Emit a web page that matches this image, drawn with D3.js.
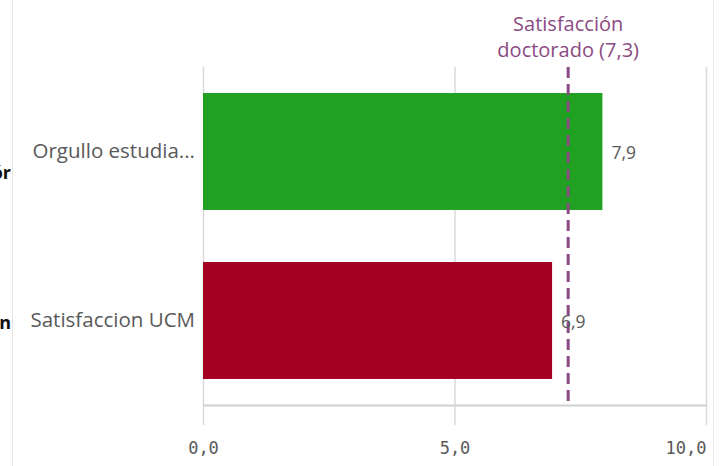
<!DOCTYPE html>
<html>
<head>
<meta charset="utf-8">
<script src="https://cdn.jsdelivr.net/npm/d3@7"></script>
<style>
  body { margin: 0; background: #fff; }
  svg { display: block; }
</style>
</head>
<body>
<svg id="chart" width="726" height="466"></svg>
<script>
// datos del gráfico
const categories = ["Orgullo estudia...", "Satisfaccion UCM"];
const values = [7.94, 6.94];
const valueLabels = ["7,9", "6,9"];
const barColors = ["#21a121", "#a30022"];
const refValue = 7.26;
const refLabel = ["Satisfacción", "doctorado (7,3)"];
const tickValues = [0, 5, 10];
const tickLabels = ["0,0", "5,0", "10,0"];
const sideTexts = ["ór", "n"];

const width = 726, height = 466;
const svg = d3.select("#chart");
const margin = {top: 67, right: 20, bottom: 61, left: 203};

// escalas
const x = d3.scaleLinear()
    .domain([0, 10])
    .range([margin.left, 706]);

const y = d3.scaleBand()
    .domain(categories)
    .range([margin.top, height - margin.bottom])
    .paddingInner(0.308)
    .paddingOuter(0.154);

// bordes claros de los objetos vecinos
svg.append("line")
    .attr("x1", 12.5).attr("x2", 12.5)
    .attr("y1", 0).attr("y2", height)
    .attr("stroke", "#e6e6e6");
svg.append("line")
    .attr("x1", 713.5).attr("x2", 713.5)
    .attr("y1", 0).attr("y2", height)
    .attr("stroke", "#eeeeee");

// texto recortado del objeto vecino (izquierda)
svg.append("clipPath").attr("id", "leftclip")
    .append("rect").attr("x", 0).attr("y", 0).attr("width", 11).attr("height", height);
const sideOffsets = [27, 8];
svg.append("g").attr("clip-path", "url(#leftclip)")
    .selectAll("text")
    .data(sideTexts)
    .join("text")
    .attr("x", 11)
    .attr("y", (d, i) => y(categories[i]) + y.bandwidth() / 2 + sideOffsets[i])
    .attr("text-anchor", "end")
    .attr("font-family", "Open Sans, sans-serif")
    .attr("font-weight", "bold")
    .attr("font-size", 18)
    .attr("fill", "#111")
    .text(d => d);

// líneas de la cuadrícula
svg.append("g")
    .selectAll("line")
    .data(tickValues)
    .join("line")
    .attr("x1", d => x(d) + 0.5)
    .attr("x2", d => x(d) + 0.5)
    .attr("y1", margin.top)
    .attr("y2", height - margin.bottom)
    .attr("stroke", "#d9d9d9")
    .attr("stroke-width", 1.5);

// eje inferior
const yAxisPos = height - margin.bottom;
const xAxis = svg.append("g")
    .attr("transform", `translate(0,${yAxisPos})`)
    .call(d3.axisBottom(x)
        .tickValues(tickValues)
        .tickFormat((d, i) => tickLabels[i])
        .tickSize(20)
        .tickPadding(17));
xAxis.select(".domain")
    .attr("stroke", "#d0d0d0")
    .attr("stroke-width", 2)
    .attr("d", `M${x(0)},0.5H${x(10)}`);
xAxis.selectAll(".tick line")
    .attr("stroke", "#d9d9d9")
    .attr("stroke-width", 1.5);
xAxis.selectAll(".tick text")
    .attr("font-family", "DejaVu Sans Mono, monospace")
    .attr("font-size", 17)
    .attr("fill", "#595959")
    .attr("text-anchor", (d, i) => i === tickValues.length - 1 ? "end" : "middle");

// barras
svg.append("g")
    .selectAll("rect")
    .data(categories)
    .join("rect")
    .attr("x", x(0))
    .attr("y", d => y(d))
    .attr("width", (d, i) => x(values[i]) - x(0))
    .attr("height", y.bandwidth())
    .attr("fill", (d, i) => barColors[i]);

// etiquetas de categoría
svg.append("g")
    .selectAll("text")
    .data(categories)
    .join("text")
    .attr("x", 195)
    .attr("y", d => y(d) + y.bandwidth() / 2 + 6)
    .attr("text-anchor", "end")
    .attr("font-family", "Open Sans, sans-serif")
    .attr("font-size", 20.5)
    .attr("fill", "#595959")
    .text(d => d);

// línea de referencia
svg.append("line")
    .attr("x1", x(refValue))
    .attr("x2", x(refValue))
    .attr("y1", margin.top)
    .attr("y2", height - margin.bottom)
    .attr("stroke", "#8b4a84")
    .attr("stroke-width", 3)
    .attr("stroke-dasharray", "11,6");

// etiquetas de valor
svg.append("g")
    .selectAll("text")
    .data(categories)
    .join("text")
    .attr("x", (d, i) => x(values[i]) + 9)
    .attr("y", d => y(d) + y.bandwidth() / 2 + 7)
    .attr("font-family", "Open Sans, sans-serif")
    .attr("font-size", 17.5)
    .attr("fill", "#595959")
    .text((d, i) => valueLabels[i]);

// texto de la referencia
svg.append("g")
    .selectAll("text")
    .data(refLabel)
    .join("text")
    .attr("text-anchor", "middle")
    .attr("font-family", "Open Sans, sans-serif")
    .attr("font-size", 20)
    .attr("fill", "#8b4a84")
    .attr("x", x(refValue))
    .attr("y", (d, i) => 31 + i * 26)
    .text(d => d);
</script>
</body>
</html>
